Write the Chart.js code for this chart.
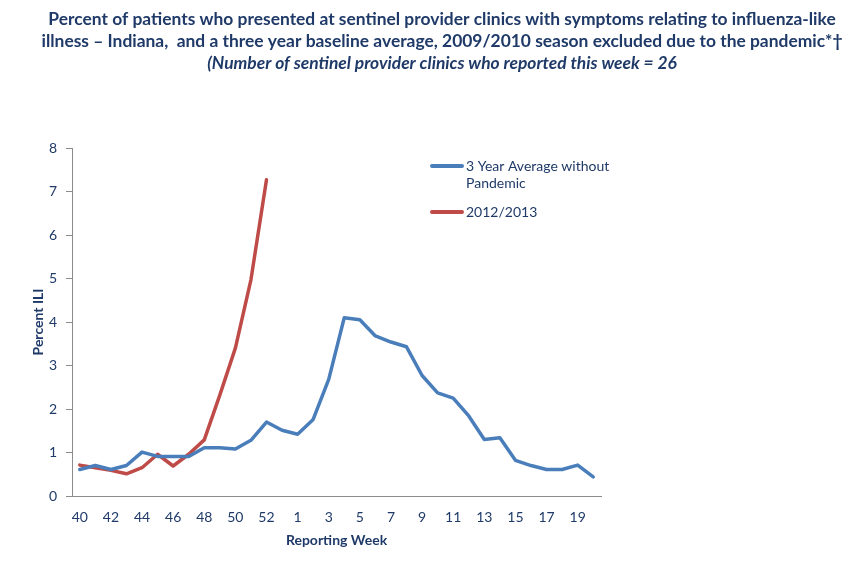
<!DOCTYPE html>
<html>
<head>
<meta charset="utf-8">
<script src="https://cdn.jsdelivr.net/npm/chart.js@4.4.1/dist/chart.umd.min.js"></script>
<style>
  html, body { margin: 0; padding: 0; background: #ffffff; }
  #wrap { width: 849px; height: 568px; position: relative; }
</style>
</head>
<body>
<div id="wrap"><canvas id="c" width="849" height="568"></canvas></div>
<script>
// ---- data ----
const weeks = ['40','41','42','43','44','45','46','47','48','49','50','51','52','53',
               '1','2','3','4','5','6','7','8','9','10','11','12','13','14','15','16','17','18','19','20'];
const avgNoPandemic = [0.61,0.70,0.61,0.70,1.01,0.91,0.91,0.91,1.11,1.11,1.08,1.28,1.70,1.51,
                       1.42,1.76,2.68,4.10,4.05,3.68,3.54,3.43,2.77,2.37,2.25,1.84,1.30,1.34,0.82,0.70,0.61,0.61,0.71,0.44];
const season1213 = [0.71,0.65,0.59,0.51,0.65,0.96,0.69,0.96,1.29,2.32,3.40,4.97,7.27];
const yTicks = [0,1,2,3,4,5,6,7,8];

const titleLines = [
  'Percent of patients who presented at sentinel provider clinics with symptoms relating to influenza-like',
  'illness \u2013 Indiana,  and a three year baseline average, 2009/2010 season excluded due to the pandemic*\u2020',
  '(Number of sentinel provider clinics who reported this week = 26'
];
const legendItems = [
  { lines: ['3 Year Average without', 'Pandemic'], color: '#4A7EBB' },
  { lines: ['2012/2013'], color: '#BE4B48' }
];

const NAVY = '#1F3A68';
const FONT = 'Lato, "Open Sans", sans-serif';

const titlePlugin = {
  id: 'customTitle',
  afterDraw(chart) {
    const ctx = chart.ctx;
    ctx.save();
    ctx.fillStyle = NAVY;
    ctx.textBaseline = 'middle';
    ctx.textAlign = 'center';
    let size = 16;
    ctx.font = 'bold ' + size + 'px ' + FONT;
    const w = ctx.measureText(titleLines[0]).width;
    size = size * 788 / w;
    const ys = [19, 41, 63];
    titleLines.forEach((t, i) => {
      ctx.font = (i === 2 ? 'italic bold ' : 'bold ') + size.toFixed(2) + 'px ' + FONT;
      ctx.fillText(t, 442, ys[i]);
    });
    ctx.restore();
  }
};

const legendPlugin = {
  id: 'customLegend',
  afterDraw(chart) {
    const ctx = chart.ctx;
    ctx.save();
    ctx.font = '14px ' + FONT;
    ctx.textBaseline = 'middle';
    ctx.textAlign = 'left';
    const startY = [166, 212];
    legendItems.forEach((it, i) => {
      const y = startY[i];
      ctx.strokeStyle = it.color;
      ctx.lineWidth = 4;
      ctx.lineCap = 'round';
      ctx.beginPath();
      ctx.moveTo(432, y);
      ctx.lineTo(462, y);
      ctx.stroke();
      ctx.fillStyle = NAVY;
      it.lines.forEach((l, j) => ctx.fillText(l, 466, y + j * 17));
    });
    ctx.restore();
  }
};

new Chart(document.getElementById('c'), {
  type: 'line',
  data: {
    labels: weeks,
    datasets: [
      { label: '3 Year Average without Pandemic', data: avgNoPandemic, borderColor: '#4A7EBB',
        backgroundColor: '#4A7EBB', borderWidth: 3.5, pointRadius: 0, tension: 0, borderJoinStyle: 'round', borderCapStyle: 'round' },
      { label: '2012/2013', data: season1213, borderColor: '#BE4B48',
        backgroundColor: '#BE4B48', borderWidth: 3.5, pointRadius: 0, tension: 0, borderJoinStyle: 'round', borderCapStyle: 'round' }
    ]
  },
  options: {
    responsive: false,
    animation: false,
    devicePixelRatio: 1,
    layout: { padding: { left: 0, right: 248, top: 148, bottom: 0 } },
    plugins: { legend: { display: false }, title: { display: false }, tooltip: { enabled: false } },
    scales: {
      x: {
        offset: true,
        grid: { display: true, drawOnChartArea: false, drawTicks: false },
        border: { display: true, color: '#8C8C8C', width: 1 },
        ticks: {
          autoSkip: false, maxRotation: 0, padding: 13, color: NAVY,
          font: { family: FONT, size: 14 },
          callback: function(v, i) { return i % 2 === 0 ? weeks[i] : ''; }
        },
        title: { display: true, text: 'Reporting Week', color: NAVY,
                 font: { family: FONT, size: 14, weight: 'bold' }, padding: { top: 0, bottom: 19.6 } },
        afterFit: function(s) { s.height = 72; }
      },
      y: {
        min: 0, max: 8,
        afterBuildTicks: function(s) { s.ticks = yTicks.map(v => ({ value: v })); },
        grid: { display: true, drawOnChartArea: false, drawTicks: true, tickLength: 6, color: '#8C8C8C' },
        border: { display: true, color: '#8C8C8C', width: 1 },
        ticks: { padding: 9, color: NAVY, font: { family: FONT, size: 14 } },
        title: { display: true, text: 'Percent ILI', color: NAVY,
                 font: { family: FONT, size: 14, weight: 'bold' }, padding: { top: 29.6, bottom: 0 } },
        afterFit: function(s) { s.width = 72; }
      }
    }
  },
  plugins: [titlePlugin, legendPlugin]
});
</script>
</body>
</html>
